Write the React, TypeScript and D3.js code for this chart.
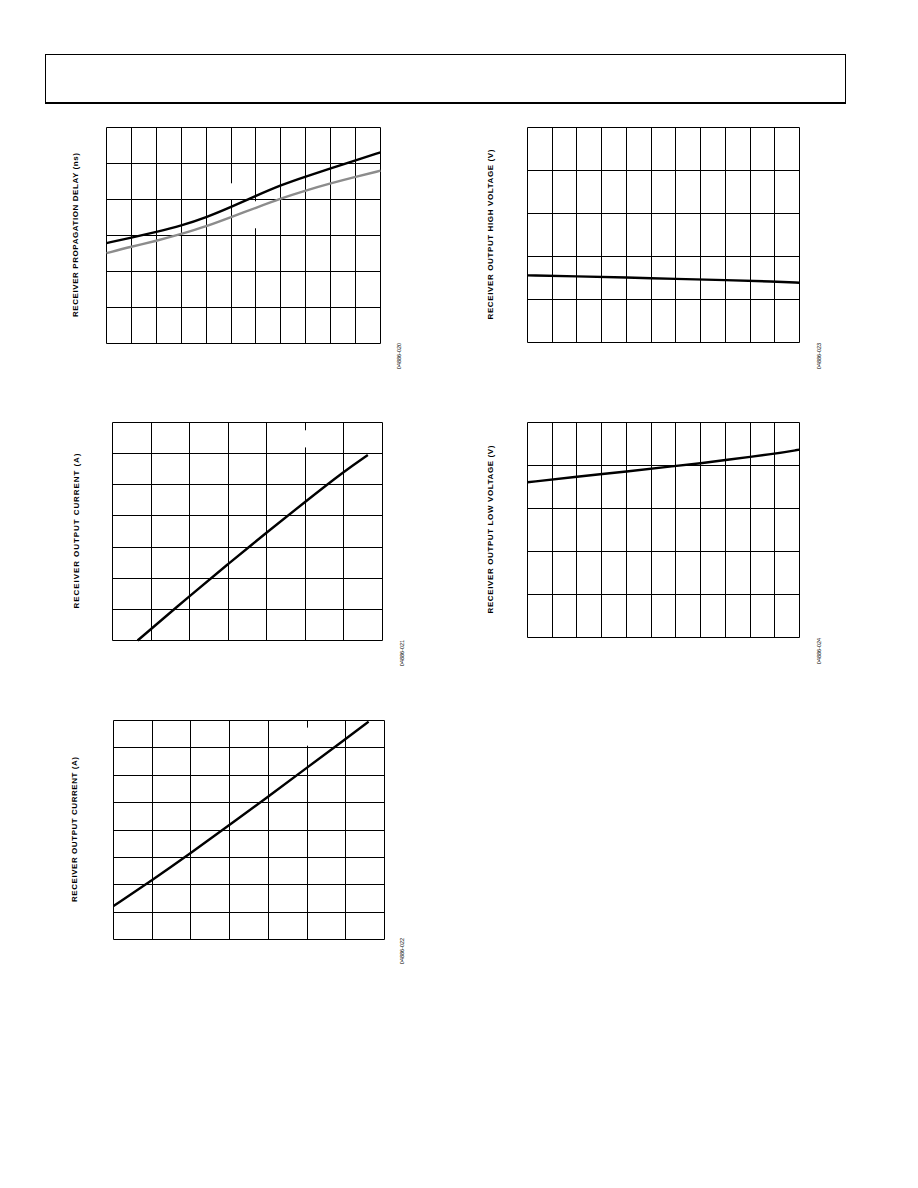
import React from "react";
import * as d3 from "d3";

// ---- data (grid units; the reference shows no tick labels) ----
const delayX = [0, 1, 2, 3, 4, 5, 6, 7, 8, 9, 10, 11];
const delayBlack = [2.79, 2.94, 3.1, 3.27, 3.5, 3.79, 4.1, 4.4, 4.64, 4.86, 5.09, 5.31];
const delayGray = [2.51, 2.69, 2.85, 3.04, 3.25, 3.51, 3.77, 4.03, 4.25, 4.45, 4.63, 4.8];

const vohX = [0, 2, 4, 6, 8, 10, 11];
const vohY = [1.56, 1.54, 1.51, 1.48, 1.45, 1.42, 1.39];

const iout1X = [0.65, 2.02, 3.0, 4.0, 5.0, 6.0, 6.62];
const iout1Y = [0.0, 1.45, 2.46, 3.47, 4.46, 5.43, 5.96];

const volX = [0, 2, 4, 6, 7, 8, 10, 11];
const volY = [3.61, 3.74, 3.86, 3.99, 4.05, 4.13, 4.27, 4.37];

const iout2X = [0, 1, 1.99, 3.0, 4.01, 5.01, 6.0, 6.59];
const iout2Y = [1.22, 2.17, 3.15, 4.19, 5.23, 6.29, 7.33, 7.96];

const labels = [
  "RECEIVER PROPAGATION DELAY (ns)",
  "RECEIVER OUTPUT HIGH VOLTAGE (V)",
  "RECEIVER OUTPUT CURRENT (A)",
  "RECEIVER OUTPUT LOW VOLTAGE (V)",
  "RECEIVER OUTPUT CURRENT (A)",
];
const codes = ["04886-020", "04886-023", "04886-021", "04886-024", "04886-022"];

type Series = { x: number[]; y: number[]; color: string };
type Chart = {
  box: [number, number, number, number];
  cols: number;
  rows: number;
  series: Series[];
  gaps: { col: number; from: number; to: number }[];
  label: string;
  labelX: number;
  labelLen: number;
  code: string;
  codeX: number;
  codeY: number;
};

const charts: Chart[] = [
  {
    box: [106, 380, 127, 343], cols: 11, rows: 6,
    series: [
      { x: delayX, y: delayGray, color: "#8c8c8c" },
      { x: delayX, y: delayBlack, color: "#000" },
    ],
    gaps: [{ col: 5, from: 4.0, to: 4.45 }, { col: 6, from: 3.2, to: 3.95 }],
    label: labels[0], labelX: 78, labelLen: 164, code: codes[0], codeX: 401, codeY: 356,
  },
  {
    box: [527, 799, 127, 342], cols: 11, rows: 5,
    series: [{ x: vohX, y: vohY, color: "#000" }],
    gaps: [],
    label: labels[1], labelX: 493, labelLen: 170, code: codes[1], codeX: 821, codeY: 356,
  },
  {
    box: [112, 382, 422, 640], cols: 7, rows: 7,
    series: [{ x: iout1X, y: iout1Y, color: "#000" }],
    gaps: [{ col: 5, from: 6.2, to: 6.75 }],
    label: labels[2], labelX: 79, labelLen: 155, code: codes[2], codeX: 404, codeY: 653,
  },
  {
    box: [527, 799, 422, 637], cols: 11, rows: 5,
    series: [{ x: volX, y: volY, color: "#000" }],
    gaps: [],
    label: labels[3], labelX: 493, labelLen: 168, code: codes[3], codeX: 821, codeY: 651,
  },
  {
    box: [113, 384, 720, 939], cols: 7, rows: 8,
    series: [{ x: iout2X, y: iout2Y, color: "#000" }],
    gaps: [{ col: 5, from: 7.08, to: 7.74 }],
    label: labels[4], labelX: 77, labelLen: 145, code: codes[4], codeX: 404, codeY: 951,
  },
];

function ChartView({ c }: { c: Chart }) {
  const [x0, x1, y0, y1] = c.box;
  const xs = d3.scaleLinear().domain([0, c.cols]).range([x0 + 0.5, x1 + 0.5]);
  const ys = d3.scaleLinear().domain([0, c.rows]).range([y1 + 0.5, y0 + 0.5]);
  const line = d3
    .line<[number, number]>()
    .x((d) => xs(d[0]))
    .y((d) => ys(d[1]))
    .curve(d3.curveBasis);
  const colTicks = d3.range(0, c.cols + 1);
  const rowTicks = d3.range(0, c.rows + 1);
  const cy = (y0 + y1) / 2;
  return (
    <g>
      {rowTicks.map((r) => (
        <line key={"h" + r} x1={xs(0)} x2={xs(c.cols)} y1={Math.round(ys(r) - 0.5) + 0.5} y2={Math.round(ys(r) - 0.5) + 0.5} stroke="#000" strokeWidth={1} />
      ))}
      {colTicks.map((k) => {
        const gx = Math.round(xs(k) - 0.5) + 0.5;
        const g = c.gaps.find((q) => q.col === k);
        if (!g) {
          return <line key={"v" + k} x1={gx} x2={gx} y1={ys(c.rows)} y2={ys(0)} stroke="#000" strokeWidth={1} />;
        }
        return (
          <g key={"v" + k}>
            <line x1={gx} x2={gx} y1={ys(c.rows)} y2={ys(g.to)} stroke="#000" strokeWidth={1} />
            <line x1={gx} x2={gx} y1={ys(g.from)} y2={ys(0)} stroke="#000" strokeWidth={1} />
          </g>
        );
      })}
      {c.series.map((s, i) => (
        <path
          key={i}
          d={line(s.x.map((v, j) => [v, s.y[j]] as [number, number])) || ""}
          fill="none"
          stroke={s.color}
          strokeWidth={2.4}
        />
      ))}
      <text
        transform={`translate(${c.labelX},${cy}) rotate(-90)`}
        textAnchor="middle"
        fontFamily="Liberation Sans, Arial, sans-serif"
        fontWeight="bold"
        fontSize={8}
        textLength={c.labelLen}
        lengthAdjust="spacing"
        fill="#000"
      >
        {c.label}
      </text>
      <text
        transform={`translate(${c.codeX},${c.codeY}) rotate(-90)`}
        textAnchor="middle"
        fontFamily="Liberation Sans, Arial, sans-serif"
        fontSize={5.5}
        fill="#000"
      >
        {c.code}
      </text>
    </g>
  );
}

export default function App() {
  return (
    <svg
      width={918}
      height={1188}
      style={{ position: "absolute", left: 0, top: 0, background: "#fff" }}
    >
      <rect x={0} y={0} width={918} height={1188} fill="#fff" />
      {/* header box */}
      <line x1={45.5} x2={45.5} y1={54} y2={103} stroke="#000" strokeWidth={1} />
      <line x1={845.5} x2={845.5} y1={54} y2={103} stroke="#000" strokeWidth={1} />
      <line x1={45} x2={846} y1={54.5} y2={54.5} stroke="#000" strokeWidth={1} />
      <line x1={45} x2={846} y1={103} y2={103} stroke="#000" strokeWidth={2} />
      {charts.map((c, i) => (
        <ChartView key={i} c={c} />
      ))}
    </svg>
  );
}
